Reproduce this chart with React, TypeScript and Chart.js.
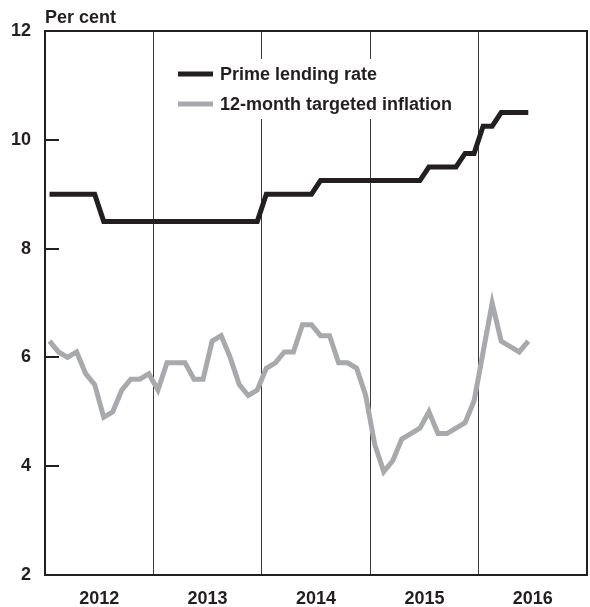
import React, { useEffect, useRef } from "react";
import { Chart, registerables } from "chart.js";

Chart.register(...registerables);

const yearLabels = ["2012", "2013", "2014", "2015", "2016"];
const yTicks = [2, 4, 6, 8, 10, 12];
const unitLabel = "Per cent";
const seriesNames = ["Prime lending rate", "12-month targeted inflation"];

// Monthly values, Jan 2012 onwards
const primeRate = [
  9.0, 9.0, 9.0, 9.0, 9.0, 9.0, 8.5, 8.5, 8.5, 8.5, 8.5, 8.5,
  8.5, 8.5, 8.5, 8.5, 8.5, 8.5, 8.5, 8.5, 8.5, 8.5, 8.5, 8.5,
  9.0, 9.0, 9.0, 9.0, 9.0, 9.0, 9.25, 9.25, 9.25, 9.25, 9.25, 9.25,
  9.25, 9.25, 9.25, 9.25, 9.25, 9.25, 9.5, 9.5, 9.5, 9.5, 9.75, 9.75,
  10.25, 10.25, 10.5, 10.5, 10.5, 10.5,
];
const inflation = [
  6.3, 6.1, 6.0, 6.1, 5.7, 5.5, 4.9, 5.0, 5.4, 5.6, 5.6, 5.7,
  5.4, 5.9, 5.9, 5.9, 5.6, 5.6, 6.3, 6.4, 6.0, 5.5, 5.3, 5.4,
  5.8, 5.9, 6.1, 6.1, 6.6, 6.6, 6.4, 6.4, 5.9, 5.9, 5.8, 5.3,
  4.4, 3.9, 4.1, 4.5, 4.6, 4.7, 5.0, 4.6, 4.6, 4.7, 4.8, 5.2,
  6.1, 7.0, 6.3, 6.2, 6.1, 6.3,
];

const TEXT = "#231f20";
const BLACK = "#231f20";
const GREY = "#a7a9ac";
const FONT = "'Liberation Sans', Arial, sans-serif";

const toPoints = (arr: number[]) => arr.map((v, i) => ({ x: i + 0.5, y: v }));

const framePlugin = {
  id: "frame",
  afterDatasetsDraw(chart: any) {
    const { ctx, chartArea } = chart;
    const ys = chart.scales.y;
    ctx.save();
    ctx.strokeStyle = TEXT;
    ctx.lineWidth = 2;
    yTicks.forEach((t) => {
      const py = Math.round(ys.getPixelForValue(t));
      ctx.beginPath();
      ctx.moveTo(chartArea.left, py);
      ctx.lineTo(chartArea.left + 14, py);
      ctx.stroke();
    });
    ctx.lineWidth = 2;
    ctx.strokeRect(chartArea.left, chartArea.top, chartArea.right - chartArea.left, chartArea.bottom - chartArea.top);
    ctx.fillStyle = TEXT;
    ctx.font = `bold 18px ${FONT}`;
    ctx.textAlign = "left";
    ctx.textBaseline = "alphabetic";
    ctx.fillText(unitLabel, chartArea.left, 23);
    ctx.fillStyle = "#ffffff";
    ctx.fillRect(168, 59, 292, 60);
    const ds = chart.data.datasets;
    const rows = [74, 104];
    ds.forEach((d: any, i: number) => {
      ctx.strokeStyle = d.borderColor;
      ctx.lineWidth = 5;
      ctx.beginPath();
      ctx.moveTo(178, rows[i]);
      ctx.lineTo(213, rows[i]);
      ctx.stroke();
      ctx.fillStyle = TEXT;
      ctx.font = `bold 18px ${FONT}`;
      ctx.textBaseline = "middle";
      ctx.fillText(d.label, 220, rows[i] + 1);
    });
    ctx.restore();
  },
};

export default function App() {
  const ref = useRef<HTMLCanvasElement | null>(null);
  useEffect(() => {
    document.body.style.margin = "0";
    if (!ref.current) return;
    const chart = new Chart(ref.current, {
      type: "line",
      data: {
        datasets: [
          {
            label: seriesNames[0],
            data: toPoints(primeRate),
            borderColor: BLACK,
            borderWidth: 5,
            pointRadius: 0,
            tension: 0,
          },
          {
            label: seriesNames[1],
            data: toPoints(inflation),
            borderColor: GREY,
            borderWidth: 5,
            pointRadius: 0,
            tension: 0,
          },
        ],
      },
      options: {
        animation: false,
        responsive: false,
        layout: { padding: { top: 31, right: 3, left: 0, bottom: 0 } },
        plugins: { legend: { display: false }, tooltip: { enabled: false } },
        scales: {
          x: {
            type: "linear",
            min: 0,
            max: yearLabels.length * 12,
            afterBuildTicks: (scale: any) => {
              const t: any[] = [];
              for (let v = 0; v <= yearLabels.length * 12; v += 6) t.push({ value: v });
              scale.ticks = t;
            },
            afterFit: (scale: any) => {
              scale.height = 32;
              scale.paddingLeft = 0;
              scale.paddingRight = 0;
            },
            grid: {
              drawTicks: false,
              lineWidth: 1,
              color: (c: any) => (c.tick && c.tick.value % 12 === 0 ? "#3a3a3a" : "rgba(0,0,0,0)"),
            },
            border: { display: false },
            ticks: {
              autoSkip: false,
              maxRotation: 0,
              padding: 13,
              color: TEXT,
              font: { family: FONT, size: 18, weight: "bold" },
              callback: (v: any) => {
                const n = Number(v);
                return n % 12 === 6 ? yearLabels[(n - 6) / 12] : "";
              },
            },
          },
          y: {
            min: yTicks[0],
            max: yTicks[yTicks.length - 1],
            afterFit: (scale: any) => {
              scale.width = 45;
              scale.paddingTop = 0;
              scale.paddingBottom = 0;
            },
            afterBuildTicks: (scale: any) => {
              scale.ticks = yTicks.map((v) => ({ value: v }));
            },
            grid: { display: false, drawTicks: false },
            border: { display: false },
            ticks: {
              padding: 14,
              color: TEXT,
              font: { family: FONT, size: 18, weight: "bold" },
            },
          },
        },
      },
      plugins: [framePlugin],
    } as any);
    return () => chart.destroy();
  }, []);
  return <canvas ref={ref} width={590} height={607} style={{ display: "block" }} />;
}
